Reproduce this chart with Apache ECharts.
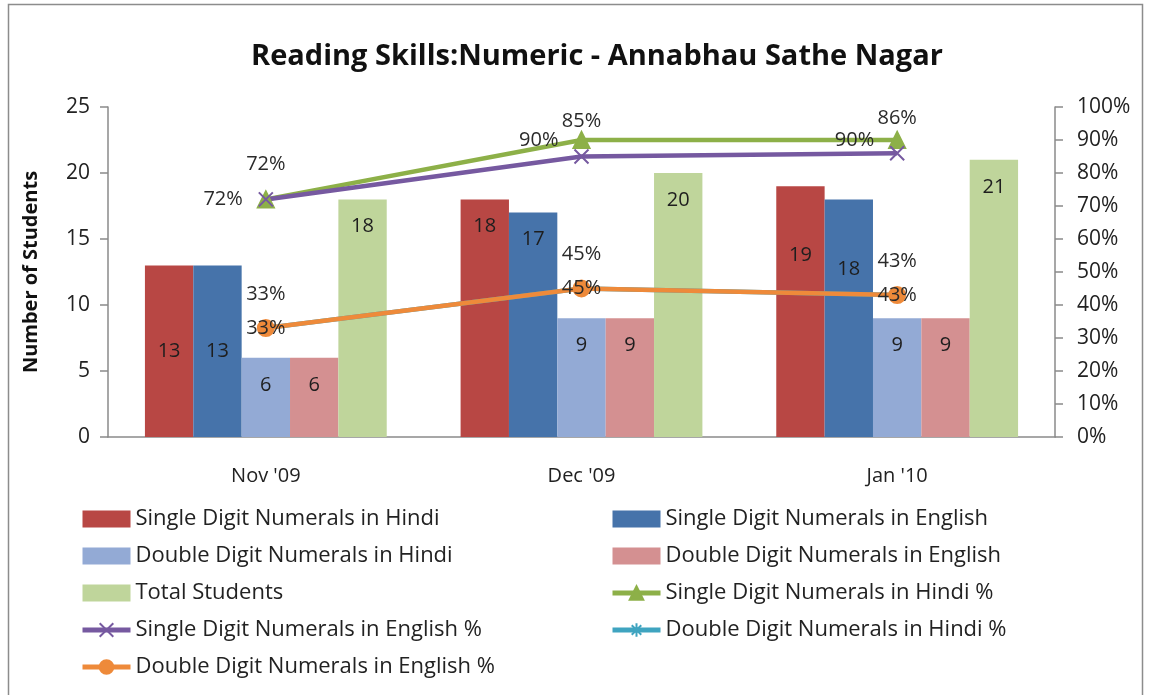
<!DOCTYPE html>
<html>
<head>
<meta charset="utf-8">
<title>Reading Skills:Numeric - Annabhau Sathe Nagar</title>
<script src="https://cdn.jsdelivr.net/npm/echarts@6/dist/echarts.min.js"></script>
<style>
html, body { margin: 0; padding: 0; background: #fff; }
#chart { width: 1151px; height: 695px; }
</style>
</head>
<body>
<div id="chart"></div>
<script>
// data
var months = ["Nov '09", "Dec '09", "Jan '10"];
var sdHindi = [13, 18, 19];
var sdEnglish = [13, 17, 18];
var ddHindi = [6, 9, 9];
var ddEnglish = [6, 9, 9];
var totalStudents = [18, 20, 21];
var sdHindiPct = [72, 90, 90];
var sdEnglishPct = [72, 85, 86];
var ddHindiPct = [33, 45, 43];
var ddEnglishPct = [33, 45, 43];

var FONT = '"Open Sans", "Noto Sans", sans-serif';
var AXIS_GREY = '#8a8a8a';

// a few bar labels were moved by hand in the original
var labelTweaks = {
    sdHindi: { 0: { position: 'inside' }, 2: { distance: 59 } },
    sdEnglish: { 0: { position: 'inside' }, 2: { distance: 60 } }
};

function barSeries(name, values, color, tweaks) {
    return {
        name: name,
        type: 'bar',
        yAxisIndex: 0,
        barGap: '0%',
        barCategoryGap: '23.4%',
        itemStyle: { color: color },
        label: {
            show: true,
            position: 'insideTop',
            distance: 17,
            fontFamily: FONT,
            fontSize: 20,
            color: '#1e1e1e'
        },
        data: values.map(function (v, i) {
            return tweaks && tweaks[i] ? { value: v, label: tweaks[i] } : v;
        })
    };
}

function lineSeries(name, values, color, symbol, symbolSize, label) {
    return {
        name: name,
        type: 'line',
        yAxisIndex: 1,
        symbol: symbol,
        symbolSize: symbolSize,
        lineStyle: { width: 4.5, color: color },
        itemStyle: { color: color, borderColor: color, borderWidth: 2 },
        label: Object.assign({
            show: true,
            fontFamily: FONT,
            fontSize: 20,
            color: '#2a2a2a',
            formatter: '{c}%'
        }, label),
        z: 3,
        data: values
    };
}

var X_PATH = 'path://M0,0 L10,10 M10,0 L0,10';
var STAR_PATH = 'path://M5,0 L5,10 M0,5 L10,5 M1.5,1.5 L8.5,8.5 M8.5,1.5 L1.5,8.5';

var legendBase = {
    orient: 'vertical',
    top: 508,
    padding: 0,
    itemWidth: 48,
    itemHeight: 17,
    itemGap: 15,
    lineStyle: { width: 5 },
    textStyle: { fontFamily: FONT, fontSize: 22, lineHeight: 22, color: '#222' }
};

var myChart = echarts.init(document.getElementById('chart'));
var option = {
    backgroundColor: '#fff',
    animation: false,
    textStyle: { fontFamily: FONT },
    title: {
        text: 'Reading Skills:Numeric - Annabhau Sathe Nagar',
        left: 251,
        top: 42,
        padding: 0,
        textStyle: { fontFamily: FONT, fontSize: 29, fontWeight: 'bold', color: '#111' }
    },
    graphic: [{
        type: 'rect',
        shape: { x: 8.5, y: 4.5, width: 1134, height: 720 },
        style: { fill: 'none', stroke: '#8c8c8c', lineWidth: 1.5 },
        silent: true
    }],
    legend: [Object.assign({}, legendBase, {
        left: 80,
        data: [
            { name: 'Single Digit Numerals in Hindi', icon: 'rect' },
            { name: 'Double Digit Numerals in Hindi', icon: 'rect' },
            { name: 'Total Students', icon: 'rect' },
            'Single Digit Numerals in English %',
            'Double Digit Numerals in English %'
        ]
    }), Object.assign({}, legendBase, {
        left: 610,
        data: [
            { name: 'Single Digit Numerals in English', icon: 'rect' },
            { name: 'Double Digit Numerals in English', icon: 'rect' },
            'Single Digit Numerals in Hindi %',
            'Double Digit Numerals in Hindi %'
        ]
    })],
    grid: { left: 108, right: 96, top: 107, bottom: 258 },
    xAxis: {
        type: 'category',
        data: months,
        axisLine: { lineStyle: { color: AXIS_GREY, width: 1.5 } },
        axisTick: { length: 8, lineStyle: { color: AXIS_GREY, width: 1.5 } },
        axisLabel: { margin: 29, fontFamily: FONT, fontSize: 20, color: '#222' }
    },
    yAxis: [{
        type: 'value',
        min: 0,
        max: 25,
        interval: 5,
        name: 'Number of Students',
        nameLocation: 'middle',
        nameGap: 67,
        nameTextStyle: { fontFamily: FONT, fontSize: 20, fontWeight: 'bold', color: '#111' },
        axisLine: { show: true, lineStyle: { color: AXIS_GREY, width: 1.5 } },
        axisTick: { show: true, length: 8, lineStyle: { color: AXIS_GREY, width: 1.5 } },
        axisLabel: { margin: 18, fontFamily: FONT, fontSize: 21, color: '#222' },
        splitLine: { show: false }
    }, {
        type: 'value',
        min: 0,
        max: 100,
        interval: 10,
        position: 'right',
        axisLine: { show: true, lineStyle: { color: AXIS_GREY, width: 1.5 } },
        axisTick: { show: true, length: 8, lineStyle: { color: AXIS_GREY, width: 1.5 } },
        axisLabel: { margin: 22, fontFamily: FONT, fontSize: 21, color: '#222', formatter: '{value}%' },
        splitLine: { show: false }
    }],
    series: [
        barSeries('Single Digit Numerals in Hindi', sdHindi, '#B84744', labelTweaks.sdHindi),
        barSeries('Single Digit Numerals in English', sdEnglish, '#4673AA', labelTweaks.sdEnglish),
        barSeries('Double Digit Numerals in Hindi', ddHindi, '#93AAD5'),
        barSeries('Double Digit Numerals in English', ddEnglish, '#D49091'),
        barSeries('Total Students', totalStudents, '#BFD59B'),
        lineSeries('Single Digit Numerals in Hindi %', sdHindiPct, '#8DB048', 'triangle', 16,
            { position: 'left', distance: 14 }),
        lineSeries('Single Digit Numerals in English %', sdEnglishPct, '#7659A0', X_PATH, 14,
            { position: 'top', distance: 17 }),
        lineSeries('Double Digit Numerals in Hindi %', ddHindiPct, '#3FA4C0', STAR_PATH, 14,
            { position: 'top', distance: 16 }),
        lineSeries('Double Digit Numerals in English %', ddEnglishPct, '#EE8A3A', 'circle', 16,
            { position: 'inside' })
    ]
};
if (option && typeof option === "object") {
    myChart.setOption(option, true);
}
</script>
</body>
</html>
